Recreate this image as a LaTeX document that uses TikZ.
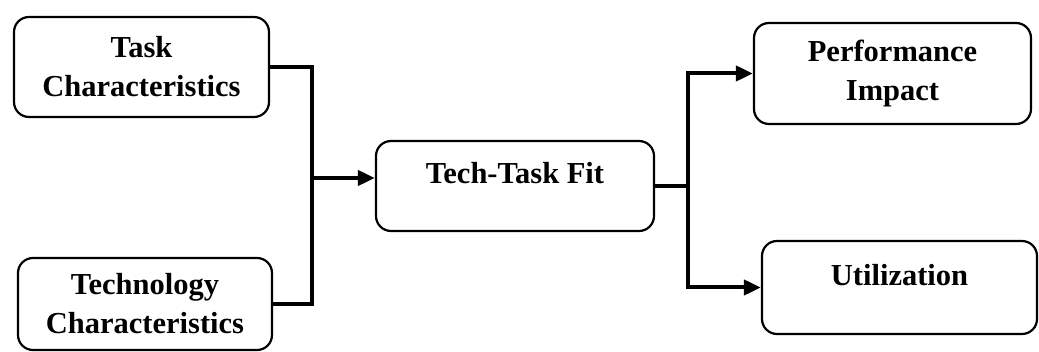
\documentclass[tikz,border=0pt]{standalone}
\usepackage{fontspec}
\setmainfont{Liberation Serif}
\usetikzlibrary{arrows.meta,positioning,calc}
\definecolor{ink}{HTML}{000000}

\begin{document}
\begin{tikzpicture}[
  x=1pt, y=-1pt, color=ink,
  font=\bfseries\fontsize{30.5}{39}\selectfont,
  box/.style={draw=ink, rounded corners=15pt, line width=2.2pt, align=center, inner sep=2pt},
  lift/.style={text height=21pt, text depth=25pt},
  link/.style={line width=4pt, color=ink},
  flow/.style={-{Triangle[length=17pt, width=15pt]}, line width=4pt, color=ink},
]
\useasboundingbox (0,0) rectangle (1039,352);

% ---- inputs (left column) ----
\node[box, minimum width=255pt, minimum height=100pt] (task) at (141.5,67) {Task\\Characteristics};
\node[box, minimum width=254pt, minimum height=92pt] (tech) at (145,304) {Technology\\Characteristics};

% ---- fit (middle) ----
\node[box, lift, minimum width=278pt, minimum height=90pt] (fit) at (515,186) {Tech-Task Fit};

% ---- outcomes (right column) ----
\node[box, minimum width=277pt, minimum height=101pt] (perf) at (892.5,73.5) {Performance\\Impact};
\node[box, lift, minimum width=275pt, minimum height=93pt] (util) at (899.5,287.5) {Utilization};

% ---- junctions ----
\coordinate (join) at (312,178);
\coordinate (split) at ($(fit.east)+(33,0)$);

% ---- inputs -> fit ----
\draw[link] (task.east) -| (join);
\draw[link] (tech.east) -| (join);
\draw[flow] (join) -- (join -| fit.west);

% ---- fit -> outcomes ----
\draw[link] (fit.east) -- (split);
\draw[flow] (split) |- (perf.west);
\draw[flow] (split) |- (util.west);
\end{tikzpicture}
\end{document}
